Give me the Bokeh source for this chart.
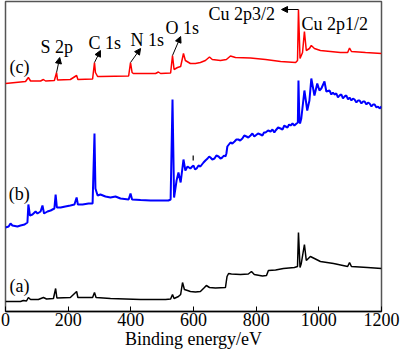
from bokeh.plotting import figure
from bokeh.models import Range1d, Arrow, NormalHead, FixedTicker
from bokeh.core.properties import value
from bokeh.embed import file_html
from bokeh.resources import INLINE

# ---- data (binding energy in eV, intensity in arbitrary units) ----
energy_a = [0, 48, 57, 67, 73, 80, 105, 121, 131, 153, 160, 164, 207, 227, 231, 278, 284, 289,
            335, 431, 511, 527, 533, 538, 552, 559, 565, 571, 581, 590, 606, 622, 635, 641, 651,
            670, 702, 707, 712, 721, 750, 775, 785, 794, 820, 833, 839, 862, 887, 922, 932, 935,
            940, 944, 954, 960, 973, 986, 1005, 1047, 1092, 1098, 1104, 1155, 1200]
intensity_a = [10, 10, 11, 10.5, 14, 12, 12, 14, 12.5, 13, 23, 13.5, 14, 20, 14, 14, 19, 14,
               13, 12, 12, 12.5, 17, 13, 15, 17, 29, 22, 21, 20, 19.5, 20, 24, 26, 24,
               23.5, 24, 35, 38, 37.5, 37, 37.5, 40, 37, 35.5, 36, 41, 41.5, 43, 44, 45, 79,
               44, 48, 67, 51, 55, 53, 50, 48, 45, 49, 45, 44, 43]

energy_b = [0, 10, 16, 22, 38, 48, 61, 70, 73, 78, 86, 96, 102, 112, 118, 123, 134, 144, 156, 160,
            164, 176, 191, 207, 220, 227, 231, 246, 265, 278, 284, 287, 294, 303, 319, 335, 351,
            367, 393, 399, 404, 431, 463, 495, 520, 527, 533, 538, 546, 552, 559, 568, 574, 581,
            590, 596, 600, 605, 610, 616, 622, 627, 632, 638, 645, 650, 654, 660, 667, 673, 680,
            686, 692, 697, 702, 705, 708, 713, 718, 724, 731, 737, 743, 749, 756, 762, 769, 775,
            782, 788, 794, 798, 806, 814, 820, 825, 830, 838, 846, 852, 858, 862, 870, 878, 884,
            890, 894, 900, 905, 910, 916, 922, 929, 933, 935, 938, 940, 944, 954, 963, 970, 976,
            986, 995, 1002, 1008, 1018, 1024, 1034, 1040, 1045, 1050, 1056, 1061, 1066, 1072,
            1077, 1082, 1088, 1093, 1098, 1104, 1109, 1114, 1120, 1125, 1130, 1136, 1141, 1146,
            1152, 1157, 1162, 1168, 1173, 1178, 1184, 1189, 1194, 1200]
intensity_b = [84, 85, 88, 86, 85, 86, 87, 89, 107, 96, 97, 100, 98, 100, 106, 98, 100, 101, 103, 117,
               104, 104, 105, 106, 107, 114, 107, 107, 108, 108, 178, 123, 116, 117, 115, 114, 115,
               113, 112, 118, 112, 111.5, 111, 111, 111, 112, 212, 114, 131, 139, 129, 152, 141, 145,
               143, 145, 146, 142, 143, 146, 145, 147, 149, 151, 153, 155, 154, 152, 153, 156, 155,
               153, 154, 156, 155, 158, 165, 167, 169, 168, 170, 172, 172, 171, 173, 176, 175, 174,
               176, 178, 175, 176, 178, 177, 176, 179, 179, 181, 180, 182, 179, 181, 184, 183, 182,
               186, 185, 184, 187, 186, 188, 186, 188, 189, 231, 190, 188, 193, 221, 201, 211, 233,
               216, 228, 221, 223, 230, 220, 221, 217, 219, 217, 218, 214, 216, 217,
               213, 215, 216, 212, 214, 211, 213, 212, 209, 211, 211, 208, 210, 210,
               207, 209, 208, 205, 207, 207, 204, 205, 203, 205]

energy_c = [0, 32, 64, 73, 80, 112, 121, 128, 156, 163, 166, 207, 227, 231, 278, 284, 287, 294, 303,
            393, 399, 404, 408, 479, 488, 495, 527, 533, 538, 549, 559, 568, 574, 590, 606, 622, 638,
            651, 660, 686, 705, 718, 734, 782, 830, 878, 926, 932, 935, 940, 948, 954, 960, 970, 976,
            986, 1005, 1037, 1069, 1092, 1098, 1104, 1149, 1200]
intensity_c = [228, 229, 230, 234, 230.5, 230.5, 232, 230.5, 231, 239, 231.5, 232, 236, 232, 232.5,
               249, 239, 235, 235, 235.5, 249, 239, 238, 238, 239.5, 238, 238.5, 256, 242, 244, 245,
               258, 251, 248, 248, 249, 251, 254.5, 252, 251, 252, 255.5, 254, 253.5, 252, 250, 249,
               251, 302, 253, 259, 280, 261, 263, 266, 263, 261, 260, 259, 259, 263.5, 260, 259, 258]

x_ticks = [0, 200, 400, 600, 800, 1000, 1200]

series_labels = ["(a)", "(b)", "(c)"]
series_label_x = [13, 10, 13]
series_label_y = [26, 118, 245]

peak_labels = ["S 2p", "C 1s", "N 1s", "O 1s", "Cu 2p3/2", "Cu 2p1/2"]
peak_label_x = [112, 265, 399, 511, 648, 945]
peak_label_y = [265, 269, 272, 283.5, 298, 288]

arrow_x0 = [163, 284, 399, 533, 935]
arrow_y0 = [239, 249, 249, 256, 302]
arrow_x1 = [173, 303, 431, 559, 881]
arrow_y1 = [254, 261, 263, 275, 302]

FONT = "Liberation Serif"

p = figure(width=400, height=357, output_backend="svg", toolbar_location=None,
           x_range=Range1d(0, 1200), y_range=Range1d(0, 310),
           min_border_left=5, min_border_right=19, min_border_top=1, min_border_bottom=46)
p.yaxis.visible = False
p.grid.visible = False
p.outline_line_color = "#555555"
p.outline_line_width = 1.5
p.background_fill_color = "white"
p.border_fill_color = "white"

ax = p.xaxis[0]
ax.ticker = FixedTicker(ticks=x_ticks)
ax.major_tick_in = 5
ax.major_tick_out = 0
ax.minor_tick_line_color = None
ax.axis_line_color = "black"
ax.axis_line_width = 1.5
ax.major_tick_line_color = "black"
ax.major_label_text_font = FONT
ax.major_label_text_font_size = "18px"
ax.major_label_text_color = "black"
ax.major_label_standoff = 1
ax.axis_label = "Binding energy/eV"
ax.axis_label_text_font = FONT
ax.axis_label_text_font_size = "18px"
ax.axis_label_text_font_style = "normal"
ax.axis_label_text_color = "black"
ax.axis_label_standoff = 0

p.line(energy_a, intensity_a, line_color="black", line_width=1.5)
p.line(energy_b, intensity_b, line_color="#0000ff", line_width=2)
p.line(energy_c, intensity_c, line_color="#ff0000", line_width=1.5)

# small stray mark
p.segment(x0=[599], y0=[151], x1=[599], y1=[156], line_color="black", line_width=1.2)

p.text(x=series_label_x, y=series_label_y, text=series_labels, text_font=value(FONT),
       text_font_size=value("18px"), text_baseline="middle", text_align="left", text_color="black")
p.text(x=peak_label_x, y=peak_label_y, text=peak_labels, text_font=value(FONT),
       text_font_size=value("18px"), text_baseline="middle", text_align="left", text_color="black")

for x0, y0, x1, y1 in zip(arrow_x0, arrow_y0, arrow_x1, arrow_y1):
    p.add_layout(Arrow(end=NormalHead(size=6, fill_color="black", line_color="black"),
                       x_start=x0, y_start=y0, x_end=x1, y_end=y1,
                       line_color="black", line_width=1))

open("out.html", "w").write(file_html(p, INLINE))
